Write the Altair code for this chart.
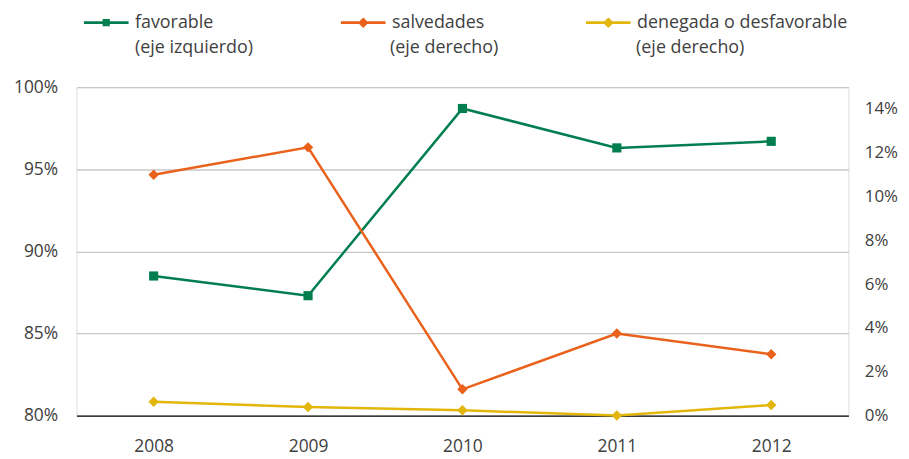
import altair as alt
import pandas as pd

years = ["2008", "2009", "2010", "2011", "2012"]
favorable = [88.5, 87.3, 98.7, 96.3, 96.7]          # % (left axis)
salvedades = [11.0, 12.25, 1.2, 3.75, 2.8]           # % (right axis)
denegada = [0.63, 0.39, 0.24, 0.0, 0.48]             # % (right axis)

series = ["favorable", "salvedades", "denegada o desfavorable"]
axis_notes = ["(eje izquierdo)", "(eje derecho)", "(eje derecho)"]
colors = ["#007E4F", "#E9611B", "#E2B60B"]
left_ticks = [0.80, 0.85, 0.90, 0.95, 1.00]
right_ticks = [0.0, 0.02, 0.04, 0.06, 0.08, 0.10, 0.12, 0.14]

rows = []
for y, a, b, c in zip(years, favorable, salvedades, denegada):
    rows.append({"year": y, "series": series[0], "value": a / 100})
    rows.append({"year": y, "series": series[1], "value": b / 100})
    rows.append({"year": y, "series": series[2], "value": c / 100})
df = pd.DataFrame(rows)
df["note"] = df["series"]

FONT = "Open Sans"
TXT = "#404040"
BLANK = "\u2800"

sq = "M-1,0L1,0M-0.1,-0.1L0.1,-0.1L0.1,0.1L-0.1,0.1Z"
dia = "M-1,0L1,0M0,-0.15L0.15,0L0,0.15L-0.15,0Z"

common_leg = dict(
    title=None,
    orient="none",
    legendX=6,
    direction="horizontal",
    columns=3,
    symbolSize=2025,
    symbolStrokeWidth=2.7,
    symbolOpacity=1,
    labelFont=FONT,
    labelFontSize=18,
    labelColor=TXT,
    labelOffset=5,
    labelLimit=400,
)

legend_main = alt.Legend(
    legendY=-89,
    columnPadding=97,
    symbolType=alt.ExprRef(expr=f"datum.value === 'favorable' ? '{sq}' : '{dia}'"),
    symbolFillColor=alt.ExprRef(expr=(
        f"datum.value === 'favorable' ? '{colors[0]}' : "
        f"datum.value === 'salvedades' ? '{colors[1]}' : '{colors[2]}'"
    )),
    labelExpr=f"datum.label == 'favorable' ? 'favorable{BLANK * 2}' : datum.label",
    **common_leg,
)

legend_note = alt.Legend(
    legendY=-63,
    columnPadding=85,
    symbolType="M0,0",
    labelExpr=(
        f"datum.label == '{series[0]}' ? '{axis_notes[0]}' : "
        f"datum.label == '{series[1]}' ? '{axis_notes[1]}' : '{axis_notes[2]}'"
    ),
    **common_leg,
)

color = alt.Color(
    "series:N",
    scale=alt.Scale(domain=series, range=colors),
    legend=legend_main,
    sort=series,
)

note_op = alt.Opacity(
    "note:O",
    sort=series,
    scale=alt.Scale(range=[1, 1, 1]),
    legend=legend_note,
)

x_enc = alt.X(
    "year:O",
    title=None,
    axis=alt.Axis(
        labelAngle=0, ticks=False, domain=False, labelFont=FONT,
        labelFontSize=17.5, labelColor=TXT, labelPadding=22,
    ),
)

y_left = alt.Y(
    "value:Q",
    scale=alt.Scale(domain=[0.8, 1.0], nice=False, zero=False),
    axis=alt.Axis(
        title=None, format=".0%", values=left_ticks, grid=True, domain=False,
        ticks=False, labelFont=FONT, labelFontSize=17.5, labelColor=TXT,
        labelPadding=19,
        gridColor={"condition": {"test": "datum.value <= 0.8001", "value": "#000000"},
                   "value": "#c8c8c8"},
        gridWidth=1.3,
    ),
)

y_right = alt.Y(
    "value:Q",
    scale=alt.Scale(domain=[0.0, 0.15], nice=False),
    axis=alt.Axis(
        title=None, orient="right", format=".0%", values=right_ticks, grid=False,
        domain=False, ticks=False, labelFont=FONT, labelFontSize=17,
        labelColor=TXT, labelPadding=16,
    ),
)

left_df = df[df["series"] == "favorable"]
right_df = df[df["series"] != "favorable"]

left = alt.layer(
    alt.Chart(left_df).mark_line(strokeWidth=2.5).encode(x=x_enc, y=y_left, color=color),
    alt.Chart(left_df).mark_point(shape="square", filled=True, size=85).encode(
        x=x_enc, y=y_left, color=color, opacity=note_op),
)

right = alt.layer(
    alt.Chart(right_df).mark_line(strokeWidth=2.5).encode(
        x=x_enc, y=y_right, color=color, detail="series:N"),
    alt.Chart(right_df).mark_point(shape="diamond", filled=True, size=110).encode(
        x=x_enc, y=y_right, color=color, opacity=note_op),
)

chart = (
    alt.layer(left, right)
    .resolve_scale(y="independent")
    .properties(
        width=778,
        height=331,
        autosize=alt.AutoSizeParams(type="none"),
        padding={"left": 69, "top": 78, "right": 53, "bottom": 41},
    )
    .configure_view(stroke=None)
    .configure(background="white")
)

chart.save("out.html", embed_options={"renderer": "svg", "actions": False})
